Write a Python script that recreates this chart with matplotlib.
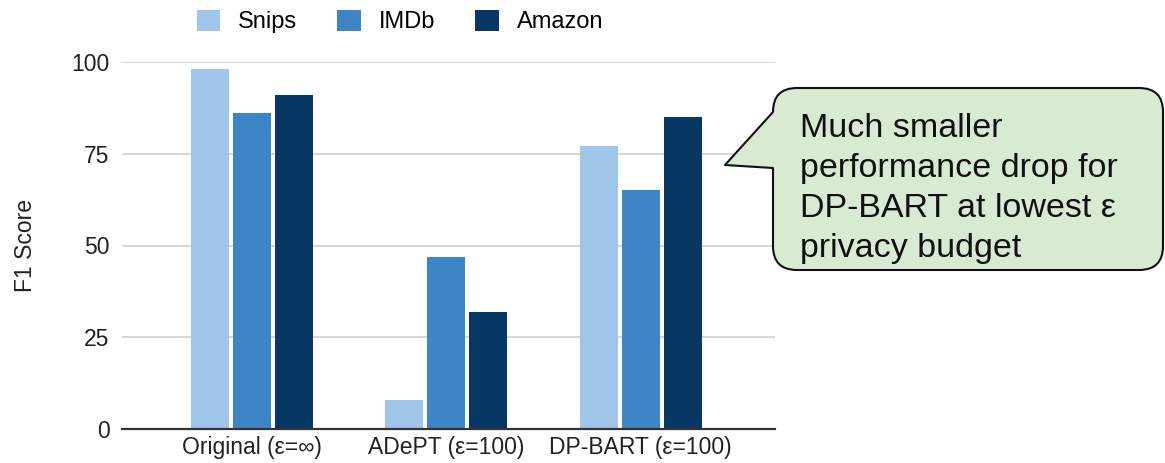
import numpy as np
import matplotlib
matplotlib.use("Agg")
import matplotlib.pyplot as plt
from matplotlib.path import Path
from matplotlib.patches import PathPatch

plt.rcParams["font.family"] = ["Liberation Sans", "DejaVu Sans"]

categories = ["Original (ε=∞)", "ADePT (ε=100)", "DP-BART (ε=100)"]
series_names = ["Snips", "IMDb", "Amazon"]
snips = [98, 8, 77]
imdb = [86, 47, 65]
amazon = [91, 32, 85]
colors = ["#9fc5e8", "#3d85c6", "#073763"]
y_ticks = [0, 25, 50, 75, 100]

W, H = 1165, 463
fig = plt.figure(figsize=(W / 100, H / 100), dpi=100)
ax = fig.add_axes([122 / W, 34 / H, 653 / W, 367 / H])

x = np.arange(len(categories))
width = 0.195
step = 0.215
for i, (name, vals) in enumerate(zip(series_names, [snips, imdb, amazon])):
    ax.bar(x + (i - 1) * step, vals, width, color=colors[i], label=name, zorder=2)

ax.set_xlim(-0.667, 2.69)
ax.set_ylim(0, 100)
ax.set_yticks(y_ticks)
ax.set_xticks(x)
ax.set_xticklabels(categories)
ax.tick_params(axis="both", length=0, labelsize=16.5, colors="#222222")
ax.tick_params(axis="y", pad=9)
ax.tick_params(axis="x", pad=5)
ax.grid(axis="y", color="#d0d0d0", linewidth=1.2, zorder=0)
for s in ["top", "right", "left"]:
    ax.spines[s].set_visible(False)
ax.spines["bottom"].set_color("#333333")
ax.spines["bottom"].set_linewidth(1.6)
ax.spines["bottom"].set_zorder(3)
ax.set_ylabel("F1 Score", fontsize=16.5, color="#222222", labelpad=25)

fig.legend(loc="upper center", bbox_to_anchor=(400 / W, 1.025), ncol=3,
           frameon=False, fontsize=17, handlelength=1.0, handleheight=1.0,
           columnspacing=1.7, handletextpad=0.75)

# callout bubble
left, right, top, bottom, r = 773, 1163, 463 - 88, 463 - 270, 24
pts = [
    (left + r, top), (right - r, top), (right, top), (right, top - r),
    (right, bottom + r), (right, bottom), (right - r, bottom),
    (left + r, bottom), (left, bottom), (left, bottom + r),
    (left, 463 - 168), (725, 463 - 165), (left, 463 - 112),
    (left, top - r), (left, top), (left + r, top), (left + r, top),
]
codes = [
    Path.MOVETO, Path.LINETO, Path.CURVE3, Path.CURVE3,
    Path.LINETO, Path.CURVE3, Path.CURVE3,
    Path.LINETO, Path.CURVE3, Path.CURVE3,
    Path.LINETO, Path.LINETO, Path.LINETO,
    Path.LINETO, Path.CURVE3, Path.CURVE3, Path.CLOSEPOLY,
]
verts = [(px / W, py / H) for px, py in pts]
bubble = PathPatch(Path(verts, codes), transform=fig.transFigure,
                   facecolor="#d9ead3", edgecolor="#111111", linewidth=1.5,
                   joinstyle="round")
fig.patches.append(bubble)
fig.text(800 / W, 1 - 113 / H,
         "Much smaller\nperformance drop for\nDP-BART at lowest ε\nprivacy budget",
         fontsize=24.5, va="top", ha="left", linespacing=1.38, color="#111111")

fig.savefig("out.png", dpi=100)
